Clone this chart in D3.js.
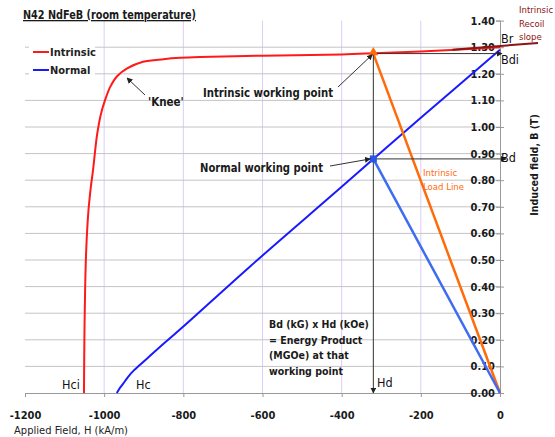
<!doctype html>
<html lang="en">
<head>
<meta charset="utf-8">
<title>N42 NdFeB demagnetisation curve</title>
<script src="https://cdn.jsdelivr.net/npm/d3@7"></script>
<style>
  body { margin: 0; background: #fff; }
  svg text { font-family: "DejaVu Sans Condensed", "DejaVu Sans", sans-serif; fill: #1a1a1a; }
  .tick-label { font-size: 11px; font-weight: bold; }
</style>
</head>
<body>
<svg id="chart" width="555" height="437"></svg>
<script>
// axis ticks
var hTicks = [-1200, -1000, -800, -600, -400, -200, 0];
var bTicks = [0, 0.1, 0.2, 0.3, 0.4, 0.5, 0.6, 0.7, 0.8, 0.9, 1.0, 1.1, 1.2, 1.3, 1.4];

// intrinsic curve (H in kA/m, B in T)
var intrinsicH = [-1051, -1050, -1048, -1045, -1040, -1034, -1028, -1018, -1008, -998, -985, -968, -942, -902, -850, -808, -758, -600, -400, -320, -200, 0];
var intrinsicB = [0, 0.2, 0.4, 0.55, 0.68, 0.77, 0.84, 0.97, 1.05, 1.10, 1.15, 1.19, 1.22, 1.245, 1.255, 1.26, 1.263, 1.268, 1.273, 1.277, 1.284, 1.30];

// normal curve
var normalH = [-968, -962, -952, -940, -925, -910, -890, -860, -800, -632, -400, -320, -200, 0];
var normalB = [0, 0.015, 0.035, 0.06, 0.085, 0.105, 0.132, 0.172, 0.25, 0.475, 0.775, 0.88, 1.035, 1.29];

// recoil slope (beyond H = 0)
var recoilH = [-120, 96];
var recoilB = [1.290, 1.316];

// working points
var workH = -320;
var intrinsicWorkB = 1.276;
var normalWorkB = 0.88;

var svg = d3.select("#chart");

var x = d3.scaleLinear().domain([-1200, 0]).range([25, 500]);
var y = d3.scaleLinear().domain([0, 1.4]).range([393, 20.6]);

var defs = svg.append("defs");
defs.append("marker")
    .attr("id", "arrow")
    .attr("viewBox", "0 0 10 10")
    .attr("refX", 9).attr("refY", 5)
    .attr("markerWidth", 6).attr("markerHeight", 6)
    .attr("markerUnits", "userSpaceOnUse")
    .attr("orient", "auto")
  .append("path")
    .attr("d", "M0,0L10,5L0,10z")
    .attr("fill", "#222");

// grid
svg.append("g").selectAll("line")
  .data(hTicks.slice(1, -1))
  .enter().append("line")
    .attr("x1", function(d) { return x(d); })
    .attr("x2", function(d) { return x(d); })
    .attr("y1", y(1.4)).attr("y2", y(0))
    .attr("stroke", "#dccdf5").attr("stroke-width", 1);

svg.append("g").selectAll("line")
  .data(bTicks.slice(1, -1))
  .enter().append("line")
    .attr("x1", x(-1200)).attr("x2", x(0))
    .attr("y1", function(d) { return y(d); })
    .attr("y2", function(d) { return y(d); })
    .attr("stroke", "#c4c4c4").attr("stroke-width", 1);

// x axis
var xAxis = svg.append("g")
    .attr("transform", "translate(0," + y(0) + ")")
    .call(d3.axisBottom(x).tickValues(hTicks).tickSize(4).tickFormat(function(d) { return String(d); }));
xAxis.select(".domain").attr("stroke", "#999");
xAxis.selectAll(".tick line").attr("stroke", "#999");
xAxis.selectAll("text").attr("class", "tick-label").attr("dy", "1.75em").attr("font-family", null);

// y axis on the right, labels inside
var yAxis = svg.append("g")
    .attr("transform", "translate(" + x(0) + ",0)")
    .call(d3.axisLeft(y).tickValues(bTicks).tickSize(4).tickFormat(d3.format(".2f")));
yAxis.select(".domain").attr("stroke", "#999");
yAxis.selectAll(".tick line").attr("stroke", "#999").attr("x2", 4).attr("x1", -4);
yAxis.selectAll("text").attr("class", "tick-label").attr("x", -5).attr("font-family", null);

// curves
function curvePath(hs, bs, curve) {
  return d3.line()
    .x(function(d) { return x(d[0]); })
    .y(function(d) { return y(d[1]); })
    .curve(curve)(d3.zip(hs, bs));
}

svg.append("path")
    .attr("d", curvePath(intrinsicH, intrinsicB, d3.curveCatmullRom))
    .attr("fill", "none").attr("stroke", "#ff1a1a").attr("stroke-width", 2);

svg.append("path")
    .attr("d", curvePath(normalH, normalB, d3.curveCatmullRom))
    .attr("fill", "none").attr("stroke", "#1a1aff").attr("stroke-width", 2);

svg.append("path")
    .attr("d", curvePath(recoilH, recoilB, d3.curveLinear))
    .attr("fill", "none").attr("stroke", "#8b1414").attr("stroke-width", 2);

// load lines
svg.append("line")
    .attr("x1", x(workH)).attr("y1", y(intrinsicWorkB))
    .attr("x2", x(0)).attr("y2", y(0))
    .attr("stroke", "#ff6a0a").attr("stroke-width", 2.5);
svg.append("line")
    .attr("x1", x(workH)).attr("y1", y(normalWorkB))
    .attr("x2", x(0)).attr("y2", y(0))
    .attr("stroke", "#3d6cf2").attr("stroke-width", 2.5);

// construction lines
svg.append("line")
    .attr("x1", x(workH)).attr("y1", y(intrinsicWorkB))
    .attr("x2", x(workH)).attr("y2", y(0))
    .attr("stroke", "#333").attr("stroke-width", 1)
    .attr("marker-end", "url(#arrow)");
svg.append("line")
    .attr("x1", x(workH)).attr("y1", y(intrinsicWorkB))
    .attr("x2", x(0) + 2).attr("y2", y(intrinsicWorkB))
    .attr("stroke", "#333").attr("stroke-width", 1)
    .attr("marker-end", "url(#arrow)");
svg.append("line")
    .attr("x1", x(workH)).attr("y1", y(normalWorkB))
    .attr("x2", x(0) + 6).attr("y2", y(normalWorkB))
    .attr("stroke", "#333").attr("stroke-width", 1)
    .attr("marker-end", "url(#arrow)");

// working point markers
svg.append("path")
    .attr("d", d3.symbol().type(d3.symbolTriangle).size(40))
    .attr("transform", "translate(" + x(workH) + "," + (y(intrinsicWorkB) - 1) + ")")
    .attr("fill", "#ff6a0a");
svg.append("rect")
    .attr("x", x(workH) - 3.5).attr("y", y(normalWorkB) - 3.5)
    .attr("width", 7).attr("height", 7)
    .attr("fill", "#2a55e8");

// annotation arrows
function pointer(x1, y1, x2, y2) {
  svg.append("line")
    .attr("x1", x1).attr("y1", y1).attr("x2", x2).attr("y2", y2)
    .attr("stroke", "#333").attr("stroke-width", 1)
    .attr("marker-end", "url(#arrow)");
}
pointer(145, 95, 127, 78);
pointer(338, 87, x(workH) - 1, y(intrinsicWorkB) + 1);
pointer(330, 166, x(workH) - 3, y(normalWorkB));

// legend
var legend = svg.append("g");
legend.append("rect").attr("x", 29).attr("y", 42).attr("width", 66).attr("height", 36).attr("fill", "#fff");
var legendItems = [["Intrinsic", "#ff1a1a"], ["Normal", "#1a1aff"]];
legendItems.forEach(function(item, i) {
  var ly = 52 + i * 18;
  legend.append("line").attr("x1", 33).attr("x2", 49).attr("y1", ly).attr("y2", ly)
    .attr("stroke", item[1]).attr("stroke-width", 2);
  legend.append("text").attr("x", 50).attr("y", ly + 4)
    .attr("font-size", 11).attr("font-weight", "bold").style("fill", "#222").text(item[0]);
});

// texts
function label(tx, ty, str, size, weight, color, width) {
  var t = svg.append("text").attr("x", tx).attr("y", ty)
    .attr("font-size", size).attr("font-weight", weight || "bold")
    .style("fill", color || "#1a1a1a").text(str);
  if (width) t.attr("textLength", width).attr("lengthAdjust", "spacingAndGlyphs");
  return t;
}
label(23, 19, "N42 NdFeB (room temperature)", 13, "bold", "#1a1a1a", 173).style("text-decoration", "underline");
label(14, 434, "Applied Field, H (kA/m)", 11, "normal", "#222", 114);
label(148, 106, "'Knee'", 11.5);
label(203, 97, "Intrinsic working point", 12.5, "bold", null, 130);
label(200, 172, "Normal working point", 12.5, "bold", null, 123);
label(62, 389, "Hci", 12.5, "normal", "#111");
label(136, 389, "Hc", 12.5, "normal", "#111");
label(377, 387, "Hd", 12.5, "normal", "#111");
label(501, 43, "Br", 12.5, "normal", "#111");
label(501, 64, "Bdi", 12.5, "normal", "#111");
label(501, 162, "Bd", 12.5, "normal", "#111");
["Intrinsic", "Load Line"].forEach(function(s, i) {
  label(423, 176 + i * 14, s, 9.5, "normal", "#ff6a0a");
});
["Intrinsic", "Recoil", "slope"].forEach(function(s, i) {
  label(519, 13 + i * 13.5, s, 9.5, "normal", "#8b1414");
});
["Bd (kG) x Hd (kOe)", "= Energy Product", "(MGOe) at that", "working point"].forEach(function(s, i) {
  label(269, 328 + i * 15.5, s, 10.5, "bold");
});

svg.append("text")
    .attr("transform", "translate(538,165) rotate(-90)")
    .attr("text-anchor", "middle")
    .attr("font-size", 10.5).attr("font-weight", "bold")
    .text("Induced field, B (T)");
</script>
</body>
</html>
